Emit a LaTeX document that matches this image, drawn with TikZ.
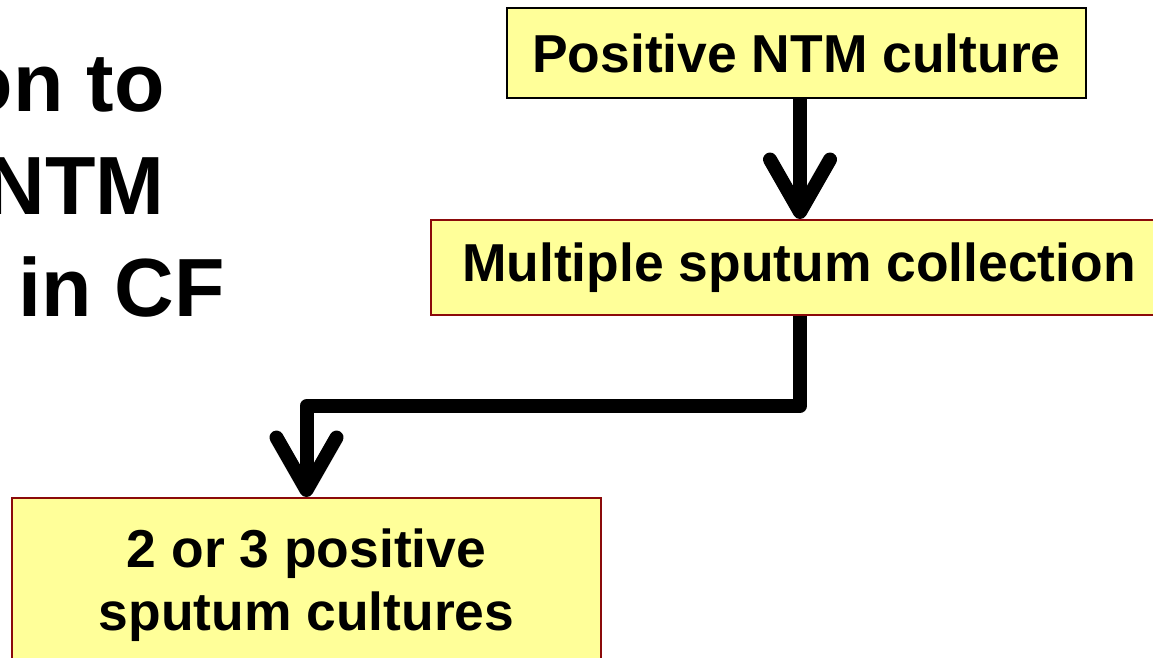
\documentclass[tikz,border=0pt]{standalone}
\usepackage{fontspec}
\setmainfont{Liberation Sans}
\usetikzlibrary{arrows.meta}
\definecolor{boxfill}{HTML}{FFFF99}
\definecolor{boxline}{HTML}{8B0A0A}
\tikzstyle{box} = [rectangle, draw=boxline, fill=boxfill, line width=1.1pt, align=center, font=\fontsize{30.4}{36}\selectfont\bfseries, inner sep=0pt]
\tikzstyle{title} = [anchor=base east, inner sep=0pt, font=\fontsize{47}{56}\selectfont\bfseries]
\tikzstyle{arrow} = [line width=0.28cm, line join=round, -{Straight Barb[round, length=1.05cm, width=1.2cm]}]

\begin{document}
\begin{tikzpicture}[x=0.02cm, y=-0.02cm]
			\useasboundingbox (0,0) rectangle (1153,658);
			% Title
			\node (t1) [title] at (165,112) {on to};
			\node (t2) [title] at (165,215) {NTM};
			\node (t3) [title] at (225,317) {in CF};
			
			% Nodes
			\node (culture) [box, draw=black, minimum width=11.58cm, minimum height=1.8cm] at (796.5,53) {Positive NTM culture};
			\node (collection) [box, minimum width=14.72cm, minimum height=1.9cm] at (799,267.5) {Multiple sputum collection};
			\node (cultures) [box, minimum width=11.78cm, minimum height=3.48cm] at (306.5,585) {2 or 3 positive\\ sputum cultures};
			
			% Arrows
			\draw [arrow] (culture.south -| 800,0) -- (collection.north -| 800,0);
			\draw [arrow] (collection.south -| 800,0) -- ++(0,90) -| (cultures.north);
		\end{tikzpicture}
\end{document}
